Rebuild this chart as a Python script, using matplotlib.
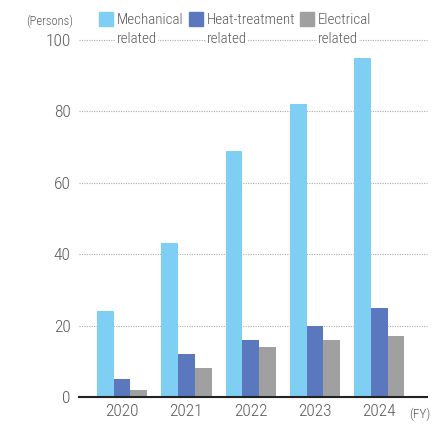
import matplotlib

matplotlib.use("Agg")
import matplotlib.pyplot as plt
import numpy as np
from matplotlib import font_manager
from matplotlib.patches import Rectangle

years = ["2020", "2021", "2022", "2023", "2024"]
mechanical = [24, 43, 69, 82, 95]
heat_treatment = [5, 12, 16, 20, 25]
electrical = [2, 8, 14, 16, 17]
series_names = ["Mechanical", "Heat-treatment", "Electrical"]
colors = ["#7ecff3", "#5b78be", "#a0a0a0"]
y_ticks = [0, 20, 40, 60, 80, 100]

names = {f.name for f in font_manager.fontManager.ttflist}
condensed = [n for n in ["Roboto Condensed", "Liberation Sans Narrow", "Open Sans Condensed",
                         "DejaVu Sans Condensed"] if n in names]
narrow = "Roboto Condensed" in names or "Liberation Sans Narrow" in names
plt.rcParams["font.family"] = condensed + ["Roboto", "DejaVu Sans"]
plt.rcParams["font.stretch"] = "condensed"
plt.rcParams["font.weight"] = "light"

TXT = "#5a5a5a"
W, H = 443, 424
fig = plt.figure(figsize=(W / 100, H / 100), dpi=100)
ax = fig.add_axes([79 / W, 1 - 397 / H, (427 - 79) / W, (397 - 40) / H])

x = np.arange(len(years))
width = 0.26
for offset, vals, col in zip([-width, 0, width], [mechanical, heat_treatment, electrical], colors):
    ax.bar(x + offset, vals, width=width, color=col, zorder=3)

ax.set_xlim(-0.67, 4.74)
ax.set_ylim(0, 100)
ax.set_yticks(y_ticks)
ax.set_xticks(x)
ax.set_xticklabels(years)
ax.tick_params(axis="x", length=0, pad=5, labelsize=12.5, labelcolor=TXT)
ax.tick_params(axis="y", length=0, pad=6, labelsize=12.5, labelcolor=TXT)
ax.grid(axis="y", color="#aaaaaa", linestyle=(0, (1, 1.2)), linewidth=0.8, zorder=0)
ax.set_axisbelow(True)
for s in ["top", "right", "left"]:
    ax.spines[s].set_visible(False)
ax.spines["bottom"].set_color("#222222")
ax.spines["bottom"].set_linewidth(1.5)
ax.spines["bottom"].set_zorder(4)
for gl in ax.get_ygridlines():
    gl.set_clip_on(False)

fig.text(73 / W, 1 - 21 / H, "(Persons)", ha="right", va="center", fontsize=9, color=TXT)
fig.text(409 / W, 1 - 414 / H, "(FY)", ha="left", va="center", fontsize=9.5, color=TXT)

# hand-made legend, second line sits on the top gridline
lsize = 10.8 if narrow else 10
patch_x = [99, 189, 300]
for px, name, col in zip(patch_x, series_names, colors):
    fig.patches.append(Rectangle((px / W, 1 - 26 / H), 14 / W, 14 / H,
                                 transform=fig.transFigure, color=col))
    fig.text((px + 18) / W, 1 - 20 / H, name, ha="left", va="center", fontsize=lsize,
             color=TXT)
    fig.text((px + 18) / W, 1 - 39 / H, "related", ha="left", va="center", fontsize=lsize,
             color=TXT, bbox=dict(facecolor="white", edgecolor="none", pad=0.5))

fig.savefig("out.png", dpi=100)
